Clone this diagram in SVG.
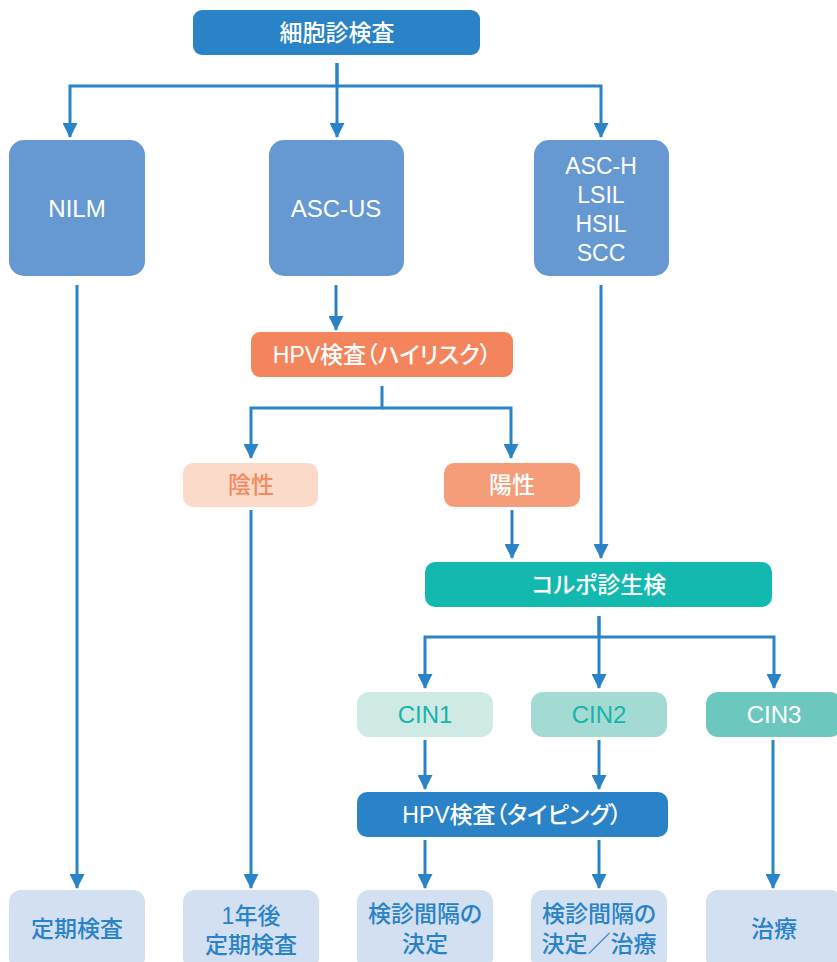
<svg xmlns="http://www.w3.org/2000/svg" width="837" height="962" viewBox="0 0 837 962">
<style>
text{font-family:"Liberation Sans","Noto Sans CJK JP",sans-serif;font-size:23px;font-weight:500;text-anchor:middle;font-feature-settings:"palt" 1}
.l{font-size:24px}
.w{fill:#ffffff}
.b{fill:#2a83c6}
.o{fill:#f28a5f}
.t{fill:#17b5a9}
.conn path{fill:none;stroke:#2a83c6;stroke-width:3;marker-end:url(#ah)}
</style>
<defs>
<marker id="ah" markerUnits="userSpaceOnUse" markerWidth="15" markerHeight="15" refX="14" refY="7.5" orient="auto" viewBox="0 0 15 15">
<path d="M0,0 L15,7.5 L0,15 z" fill="#2a83c6"/>
</marker>
</defs>
<rect width="837" height="962" fill="#ffffff"/>
<g class="conn">
<path d="M337,63 V86 H70 V137"/>
<path d="M337,63 V137"/>
<path d="M337,86 H601 V137"/>
<path d="M77,285 V888"/>
<path d="M336,285 V330"/>
<path d="M382,386 V408 H251 V458"/>
<path d="M382,408 H511 V458"/>
<path d="M251,510 V888"/>
<path d="M512,510 V558"/>
<path d="M601,285 V558"/>
<path d="M599,616 V637 H425 V688"/>
<path d="M599,616 V688"/>
<path d="M599,637 H774 V688"/>
<path d="M425,740 V789"/>
<path d="M599,740 V789"/>
<path d="M425,840 V888"/>
<path d="M599,840 V888"/>
<path d="M773,740 V888"/>
</g>
<g id="n-cytology"><rect x="193" y="10" width="287" height="45" rx="9" fill="#2a83c6"/><text x="337" y="41" class="w">細胞診検査</text></g>
<g id="n-nilm"><rect x="9" y="140" width="136" height="136" rx="15" fill="#6699d1"/><text x="77" y="217" class="w l">NILM</text></g>
<g id="n-ascus"><rect x="269" y="140" width="135" height="136" rx="15" fill="#6699d1"/><text x="336" y="217" class="w l">ASC-US</text></g>
<g id="n-asch"><rect x="534" y="140" width="135" height="136" rx="15" fill="#6699d1"/><text x="601" class="w"><tspan x="601" y="174">ASC-H</tspan><tspan x="601" y="203">LSIL</tspan><tspan x="601" y="232">HSIL</tspan><tspan x="601" y="261">SCC</tspan></text></g>
<g id="n-hpv-hr"><rect x="251" y="332" width="262" height="45" rx="9" fill="#f4845b"/><text x="382" y="363" class="w">HPV検査（ハイリスク）</text></g>
<g id="n-neg"><rect x="183" y="463" width="135" height="44" rx="10" fill="#fcdac9"/><text x="251" y="493" class="o">陰性</text></g>
<g id="n-pos"><rect x="444" y="463" width="136" height="44" rx="10" fill="#f59d78"/><text x="512" y="493" class="w">陽性</text></g>
<g id="n-colpo"><rect x="425" y="562" width="347" height="45" rx="10" fill="#13b9ae"/><text x="599" y="593" class="w">コルポ診生検</text></g>
<g id="n-cin1"><rect x="357" y="692" width="136" height="45" rx="12" fill="#cfe9e5"/><text x="425" y="723" class="t l">CIN1</text></g>
<g id="n-cin2"><rect x="531" y="692" width="136" height="45" rx="12" fill="#a4dad4"/><text x="599" y="723" class="t l">CIN2</text></g>
<g id="n-cin3"><rect x="706" y="692" width="136" height="45" rx="12" fill="#6cc8bf"/><text x="774" y="723" class="w l">CIN3</text></g>
<g id="n-hpv-typing"><rect x="357" y="792" width="311" height="45" rx="10" fill="#2a83c6"/><text x="512" y="823" class="w">HPV検査（タイピング）</text></g>
<g id="n-regular"><rect x="9" y="890" width="136" height="80" rx="12" fill="#d3e0f1"/><text x="77" y="937" class="b">定期検査</text></g>
<g id="n-1year"><rect x="183" y="890" width="136" height="80" rx="12" fill="#d3e0f1"/><text class="b"><tspan x="251" y="924">1年後</tspan><tspan x="251" y="953">定期検査</tspan></text></g>
<g id="n-interval"><rect x="357" y="890" width="136" height="80" rx="12" fill="#d3e0f1"/><text class="b"><tspan x="425" y="922">検診間隔の</tspan><tspan x="425" y="952">決定</tspan></text></g>
<g id="n-interval-treat"><rect x="531" y="890" width="136" height="80" rx="12" fill="#d3e0f1"/><text class="b"><tspan x="599" y="922">検診間隔の</tspan><tspan x="599" y="952">決定／治療</tspan></text></g>
<g id="n-treat"><rect x="706" y="890" width="136" height="80" rx="12" fill="#d3e0f1"/><text x="774" y="937" class="b">治療</text></g>
</svg>
